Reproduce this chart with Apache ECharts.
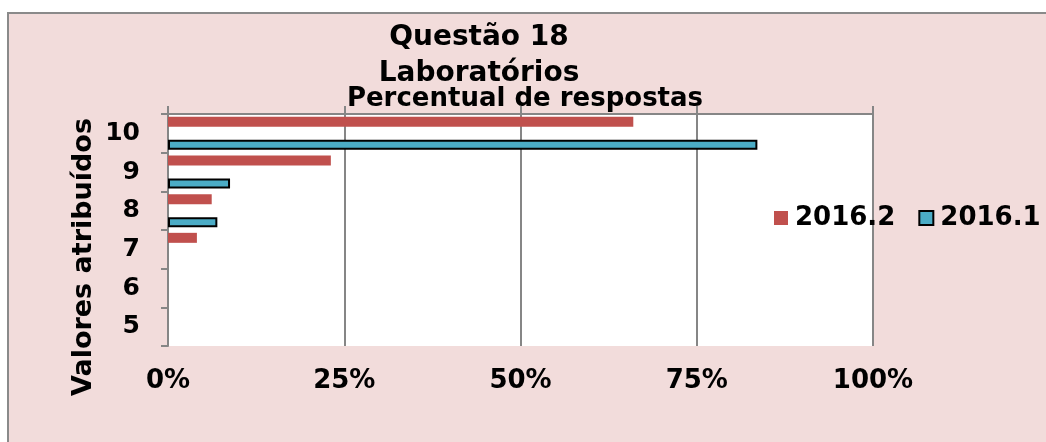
<!DOCTYPE html>
<html><head><meta charset="utf-8">
<script src="https://cdn.jsdelivr.net/npm/echarts@6/dist/echarts.min.js"></script>
<style>html,body{margin:0;padding:0;background:#fff;}#c{width:1046px;height:442px;}</style>
</head><body><div id="c"></div>
<script>
const categories = ['5', '6', '7', '8', '9', '10'];
const series2016_2 = [null, null, 4.1, 6.2, 23.1, 66.0];
const series2016_1 = [null, null, null, 7.0, 8.8, 83.6];
const xTicks = [0, 25, 50, 75, 100];
const titleText = 'Questão 18\nLaboratórios';
const subtitleText = 'Percentual de respostas';
const yAxisTitle = 'Valores atribuídos';

const FONT = 'DejaVu Sans';
const chart = echarts.init(document.getElementById('c'), null, {renderer: 'canvas'});
chart.setOption({
  backgroundColor: '#fff',
  animation: false,
  graphic: [
    {type: 'rect', z: -10, silent: true,
     shape: {x: 8, y: 13, width: 1100, height: 500},
     style: {fill: '#f2dcdb', stroke: '#8a8a8a', lineWidth: 2}},
    {type: 'text', x: 84, y: 257, rotation: Math.PI / 2,
     style: {text: yAxisTitle, font: 'bold 27px "DejaVu Sans"', fill: '#000',
             align: 'center', verticalAlign: 'middle'}}
  ],
  title: [
    {text: titleText, left: 474, top: 15, textAlign: 'center',
     textStyle: {fontFamily: FONT, fontWeight: 'bold', fontSize: 28, lineHeight: 36, color: '#000'}},
    {text: subtitleText, left: 520, top: 80, textAlign: 'center',
     textStyle: {fontFamily: FONT, fontWeight: 'bold', fontSize: 26, lineHeight: 28, color: '#000'}}
  ],
  legend: {
    data: ['2016.2', '2016.1'],
    orient: 'horizontal',
    left: 774, top: 205, padding: 0, width: 280,
    itemWidth: 14, itemHeight: 14, itemGap: 23,
    icon: 'rect',
    textStyle: {fontFamily: FONT, fontWeight: 'bold', fontSize: 26, color: '#000', padding: [0, 0, 0, 2]}
  },
  grid: {left: 168, right: 173, top: 114, bottom: 96, show: true,
         backgroundColor: '#fff', borderWidth: 0, containLabel: false},
  xAxis: [
    {type: 'value', position: 'top', min: 0, max: 100, interval: 25,
     axisLine: {show: true, lineStyle: {color: '#868686', width: 2}},
     axisTick: {show: true, length: 8, lineStyle: {color: '#868686', width: 2}},
     axisLabel: {show: false},
     splitLine: {show: true, lineStyle: {color: '#868686', width: 2}}},
    {type: 'value', position: 'bottom', min: 0, max: 100, interval: 25,
     axisLine: {show: false}, axisTick: {show: false}, splitLine: {show: false},
     axisLabel: {show: true, margin: 22, fontFamily: FONT, fontWeight: 'bold', fontSize: 26, color: '#000',
                 formatter: v => xTicks.includes(v) ? v + '%' : ''}}
  ],
  yAxis: {
    type: 'category', data: categories,
    axisLine: {show: true, lineStyle: {color: '#868686', width: 2}},
    axisTick: {show: true, length: 7, lineStyle: {color: '#868686', width: 2}},
    axisLabel: {margin: 28, fontFamily: FONT, fontWeight: 'bold', fontSize: 25, color: '#000'},
    splitLine: {show: false}
  },
  series: [
    {name: '2016.2', type: 'bar', xAxisIndex: 0, data: series2016_2,
     barWidth: 10, barGap: '130%',
     itemStyle: {color: '#c0504d'}},
    {name: '2016.1', type: 'bar', xAxisIndex: 0, data: series2016_1,
     barWidth: 10, barGap: '130%',
     itemStyle: {color: '#4bacc6', borderColor: '#000', borderWidth: 2}}
  ]
});
</script></body></html>
